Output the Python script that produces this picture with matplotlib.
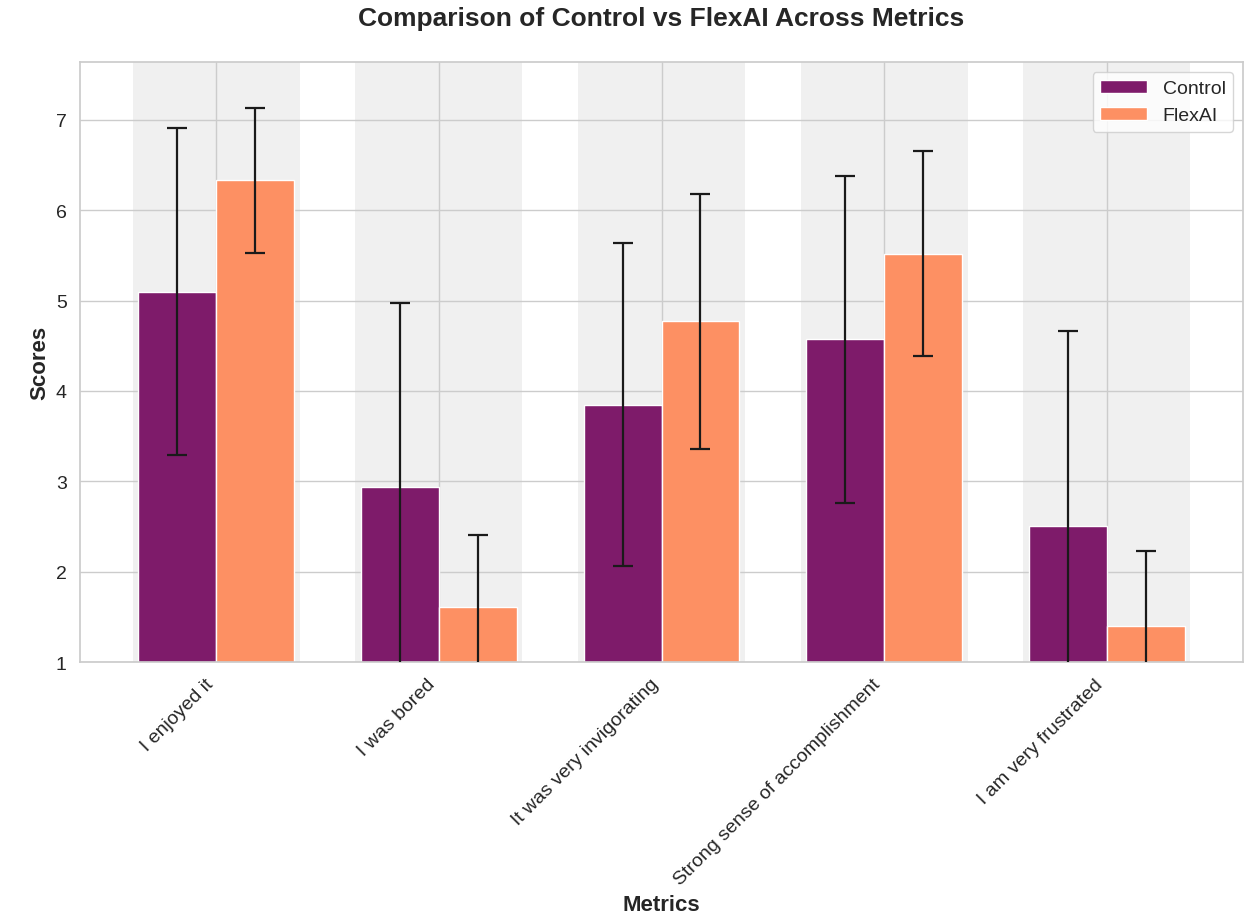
import numpy as np
import matplotlib
matplotlib.use("Agg")
import matplotlib.pyplot as plt
import seaborn as sns

# survey metrics
metrics = ["I enjoyed it", "I was bored", "It was very invigorating",
           "Strong sense of accomplishment", "I am very frustrated"]
control_mean = [5.10, 2.94, 3.85, 4.57, 2.51]
control_err = [1.81, 2.03, 1.79, 1.81, 2.15]
flexai_mean = [6.33, 1.61, 4.77, 5.52, 1.40]
flexai_err = [0.80, 0.80, 1.41, 1.13, 0.83]

sns.set_theme(style="whitegrid")
plt.rcParams['font.family'] = ['Liberation Sans', 'DejaVu Sans']

x = np.arange(len(metrics))
width = 0.35

fig = plt.figure(figsize=(12.48, 9.2), dpi=100)
ax = fig.add_subplot(111)
fig.subplots_adjust(left=0.0641, right=0.996, top=0.9315, bottom=0.2793)
ax.set_axisbelow(True)

for xi in x:
    ax.axvspan(xi - 0.375, xi + 0.375, color="#f0f0f0", zorder=0, lw=0)

ax.bar(x - width / 2, control_mean, width, yerr=control_err, capsize=7,
       color="#7e1b6a", edgecolor="white", linewidth=1, label="Control",
       zorder=2, error_kw=dict(elinewidth=1.6, capthick=1.6, ecolor="#1a1a1a", zorder=3))
ax.bar(x + width / 2, flexai_mean, width, yerr=flexai_err, capsize=7,
       color="#fd9063", edgecolor="white", linewidth=1, label="FlexAI",
       zorder=2, error_kw=dict(elinewidth=1.6, capthick=1.6, ecolor="#1a1a1a", zorder=3))

ax.set_xlim(-0.6125, 4.6125)
ax.set_ylim(1, 7.64)
ax.set_xticks(x)
ax.set_xticklabels(metrics, rotation=45, ha="right", fontsize=14)
ax.tick_params(axis="y", labelsize=14)

ax.set_title("Comparison of Control vs FlexAI Across Metrics", fontsize=19,
             fontweight="bold", pad=27)
ax.set_xlabel("Metrics", fontsize=16, fontweight="bold")
ax.set_ylabel("Scores", fontsize=16, fontweight="bold")
ax.legend(loc="upper right", fontsize=14, handlelength=2.4)

fig.savefig("out.png", dpi=100)
